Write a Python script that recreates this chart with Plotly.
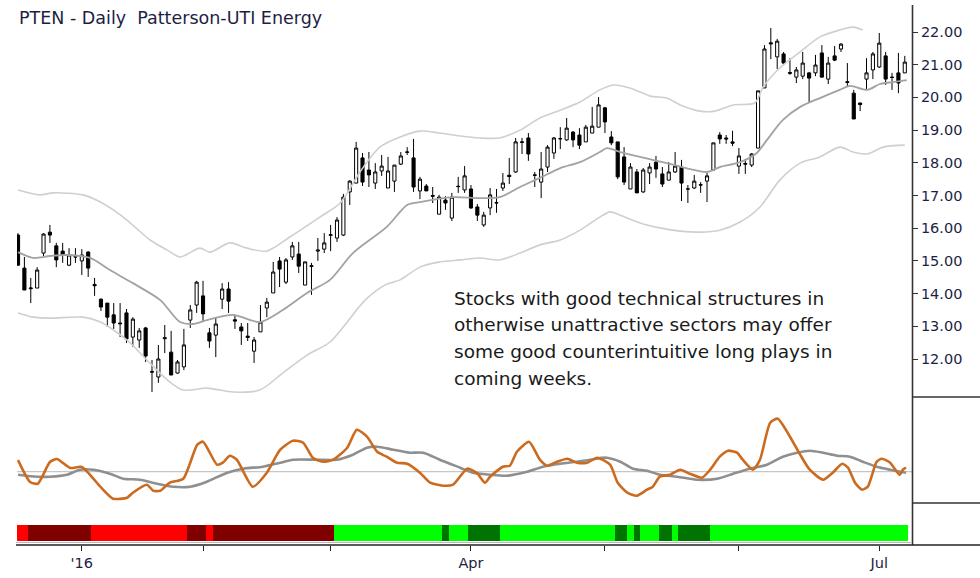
import pandas as pd
import plotly.graph_objects as go

# ---------------- data ----------------
holidays = ["2015-12-25", "2016-01-01", "2016-01-18", "2016-02-15",
            "2016-03-25", "2016-05-30", "2016-07-04"]
dates = pd.bdate_range("2015-12-17", "2016-07-08", freq="C", holidays=holidays)

opens = [15.79, 14.78, 14.15, 14.17, 15.24, 15.88, 15.46, 15.30, 14.87, 15.13,
         15.00, 15.27, 14.28, 13.83, 13.71, 13.35, 13.10, 13.41, 12.67, 12.58,
         12.95, 11.62, 11.45, 12.62, 12.21, 11.57, 11.76, 13.19, 13.65, 13.93,
         12.80, 12.73, 13.83, 14.14, 13.20, 12.98, 12.70, 12.24, 12.83, 13.56,
         14.02, 15.00, 14.35, 15.12, 15.21, 14.26, 14.83, 15.30, 15.36, 15.78,
         15.70, 15.79, 17.11, 17.38, 18.15, 17.78, 17.38, 17.75, 17.23, 17.44,
         17.96, 18.32, 18.15, 17.14, 17.29, 17.00, 16.43, 16.86, 16.31, 17.27,
         17.17, 17.20, 16.65, 16.10, 16.62, 16.77, 17.23, 17.62, 17.72, 18.62,
         18.76, 17.63, 17.41, 17.87, 18.30, 18.73, 18.70, 18.94, 18.85, 18.64,
         18.91, 19.09, 19.68, 18.79, 18.64, 18.18, 17.20, 17.72, 17.11, 17.69,
         18.02, 17.66, 17.47, 17.72, 17.87, 17.20, 17.23, 17.33, 17.44, 17.78,
         18.85, 18.76, 18.64, 17.90, 17.98, 17.93, 18.45, 20.29, 21.67, 21.24,
         21.33, 20.76, 20.62, 20.65, 20.75, 20.75, 21.36, 20.56, 21.27, 21.48,
         20.48, 20.13, 19.83, 20.56, 20.84, 20.93, 21.27, 20.62, 20.75, 20.75]
highs = [15.85, 15.12, 14.48, 14.81, 15.85, 16.10, 15.55, 15.55, 15.39, 15.39,
         15.36, 15.30, 14.48, 13.85, 13.71, 13.71, 13.71, 13.53, 13.28, 12.95,
         12.98, 11.97, 12.43, 13.04, 12.86, 11.97, 12.92, 13.65, 14.39, 14.39,
         12.95, 13.28, 14.32, 14.35, 13.35, 13.10, 13.10, 12.67, 13.65, 13.87,
         14.97, 15.12, 15.09, 15.58, 15.58, 14.97, 14.94, 15.70, 15.85, 16.10,
         16.34, 17.05, 17.47, 18.64, 18.30, 18.33, 17.99, 18.24, 18.18, 17.93,
         18.33, 18.48, 18.73, 17.57, 17.35, 17.26, 17.02, 16.98, 17.08, 17.57,
         17.90, 17.32, 16.74, 16.50, 17.23, 17.20, 17.69, 18.15, 18.76, 18.76,
         18.91, 17.72, 18.33, 18.54, 18.79, 19.09, 19.37, 18.97, 19.06, 19.16,
         19.71, 20.01, 19.71, 18.97, 18.64, 18.48, 17.99, 17.81, 17.84, 17.99,
         18.21, 17.87, 18.02, 18.33, 18.09, 17.32, 17.63, 17.41, 17.69, 18.61,
         18.94, 18.85, 18.98, 18.45, 18.12, 18.30, 20.20, 21.60, 22.12, 21.79,
         21.39, 21.20, 20.93, 21.39, 20.78, 21.30, 21.60, 21.24, 21.57, 21.66,
         21.05, 20.23, 19.83, 21.20, 21.39, 21.97, 21.39, 20.75, 21.36, 21.27]
lows = [14.85, 14.11, 13.71, 14.17, 15.15, 15.55, 14.81, 14.94, 14.84, 14.94,
        14.57, 14.51, 13.93, 13.47, 12.98, 12.92, 12.67, 12.49, 12.37, 12.34,
        11.91, 10.99, 11.27, 12.18, 11.51, 11.55, 11.66, 12.95, 13.41, 13.13,
        12.34, 12.06, 13.53, 13.41, 12.92, 12.43, 12.55, 11.88, 12.83, 13.28,
        14.02, 14.20, 14.29, 15.03, 14.63, 14.26, 13.96, 15.00, 15.24, 15.30,
        15.58, 15.76, 16.71, 17.38, 17.29, 17.26, 17.20, 17.60, 17.23, 17.11,
        17.93, 18.24, 17.11, 16.89, 17.14, 16.77, 16.43, 16.56, 16.22, 17.08,
        17.08, 16.59, 16.22, 16.04, 16.40, 16.47, 17.14, 17.35, 17.69, 18.27,
        18.06, 17.26, 16.92, 17.72, 18.12, 18.42, 18.67, 18.48, 18.42, 18.64,
        18.91, 19.09, 18.91, 18.54, 17.50, 17.32, 17.20, 17.08, 17.08, 17.35,
        17.54, 17.26, 17.47, 17.69, 16.83, 16.77, 17.20, 17.08, 16.80, 17.78,
        18.58, 18.58, 18.51, 17.66, 17.66, 17.87, 18.45, 20.29, 21.17, 20.87,
        20.99, 20.69, 20.44, 20.56, 19.86, 20.65, 20.62, 20.41, 21.11, 21.39,
        20.32, 19.34, 19.58, 20.26, 20.56, 20.90, 20.38, 20.23, 20.13, 20.75]
closes = [14.87, 14.11, 14.17, 14.72, 15.82, 15.79, 15.03, 15.18, 15.18, 15.12,
          15.18, 14.78, 14.24, 13.59, 13.28, 13.10, 13.08, 12.61, 13.22, 12.86,
          12.09, 11.60, 12.00, 12.65, 11.51, 11.91, 12.43, 13.50, 14.35, 13.38,
          12.55, 13.07, 14.14, 13.77, 13.16, 12.86, 12.66, 12.58, 13.13, 13.74,
          14.66, 14.75, 15.03, 15.46, 14.84, 14.97, 14.85, 15.33, 15.55, 15.80,
          16.25, 16.95, 17.44, 18.45, 17.41, 17.63, 17.72, 17.90, 17.75, 17.93,
          18.21, 18.33, 17.26, 17.50, 17.14, 16.98, 16.95, 16.77, 16.95, 17.28,
          17.60, 16.62, 16.40, 16.40, 17.02, 16.78, 17.38, 17.58, 18.64, 18.64,
          18.27, 17.62, 17.81, 18.48, 18.76, 18.74, 19.06, 18.70, 18.54, 19.09,
          19.12, 19.77, 19.25, 18.61, 17.57, 17.41, 17.87, 17.08, 17.78, 17.87,
          17.81, 17.35, 17.72, 17.90, 17.38, 17.20, 17.44, 17.32, 17.60, 18.61,
          18.73, 18.73, 18.60, 18.21, 17.96, 18.27, 20.20, 21.48, 21.64, 21.72,
          21.05, 20.74, 20.84, 21.05, 20.59, 20.99, 20.62, 21.05, 21.14, 21.63,
          20.46, 19.34, 19.78, 20.75, 21.33, 21.66, 20.56, 20.61, 20.44, 21.08]

# Bollinger-style envelope (day position, price)
upper_pos = [0, 3.4, 5.5, 10.2, 12.9, 16.5, 20.7, 23.4, 25.4, 28.5, 30.1, 33.2, 35.9,
             39.0, 42.6, 47.3, 50.5, 53.6, 56.7, 59.9, 63.0, 66.1, 69.3, 72.4, 75.5,
             78.7, 81.8, 85.0, 88.1, 91.2, 93.3, 95.9, 99.1, 101.7, 103.8, 106.9,
             109.2, 112.1, 115.5, 116.8, 119.4, 122.6, 125.7, 128.8, 130.9, 132.4]
upper_val = [17.17, 17.02, 17.08, 17.02, 16.80, 16.34, 15.64, 15.33, 15.12, 15.39,
             15.27, 15.55, 15.39, 15.30, 15.73, 16.34, 16.77, 17.72, 18.48, 18.79,
             18.97, 18.91, 18.82, 18.76, 18.76, 19.00, 19.37, 19.61, 19.86, 20.23,
             20.38, 20.29, 20.04, 19.98, 19.77, 19.58, 19.58, 19.77, 19.83, 20.32,
             20.90, 21.39, 21.85, 22.06, 22.15, 22.06]
mid_pos = [0, 2.4, 5.0, 7.7, 11.3, 14.4, 18.0, 22.3, 25.4, 27.4, 29.6, 33.7, 37.9,
           41.5, 45.3, 48.9, 52.5, 57.8, 61.0, 63.0, 68.2, 72.4, 75.5, 78.7, 81.8,
           85.0, 88.1, 91.2, 92.3, 94.4, 97.5, 101.7, 108.0, 110.0, 113.2, 115.8,
           117.4, 119.9, 122.6, 125.7, 128.8, 130.4, 133.1, 135.1, 137.1, 139.3]
mid_val = [15.27, 15.09, 15.15, 15.18, 15.09, 14.72, 14.32, 13.80, 13.13, 13.07,
           13.19, 13.35, 13.13, 13.50, 14.02, 14.42, 15.24, 16.04, 16.71, 16.80,
           16.95, 16.92, 16.95, 17.26, 17.54, 17.84, 18.02, 18.33, 18.45, 18.33,
           18.18, 17.99, 17.72, 17.87, 18.02, 18.30, 18.70, 19.31, 19.71, 19.98,
           20.23, 20.35, 20.23, 20.41, 20.47, 20.53]
lower_pos = [0, 2.4, 5.0, 10.2, 12.9, 17.1, 20.2, 23.4, 25.9, 29.6, 33.7, 37.9,
             41.5, 45.3, 48.9, 54.4, 57.5, 59.9, 63.0, 66.1, 69.3, 72.4, 75.5, 78.7,
             81.8, 85.0, 88.1, 91.2, 92.8, 94.4, 97.5, 100.6, 103.8, 106.9, 110.0,
             113.2, 116.3, 119.4, 122.6, 125.7, 128.8, 130.9, 133.1, 135.6, 139.0]
lower_val = [13.41, 13.28, 13.25, 13.28, 13.13, 12.58, 11.97, 11.36, 11.05, 11.11,
             10.99, 11.05, 11.57, 12.12, 12.52, 13.80, 14.26, 14.42, 14.81, 14.97,
             15.03, 15.09, 15.03, 15.24, 15.49, 15.64, 15.94, 16.34, 16.50, 16.40,
             16.16, 16.01, 15.91, 15.88, 15.94, 16.19, 16.65, 17.47, 17.99, 18.18,
             18.48, 18.33, 18.27, 18.48, 18.54]

# oscillator (day position, value) and its signal line
osc_pos = [0, 1.9, 3.1, 5.0, 6.1, 8.2, 10.0, 12.9, 14.9, 17.1, 18.0, 20.2, 21.2,
           22.3, 23.8, 25.9, 28.1, 29.0, 31.2, 32.1, 33.2, 34.3, 36.8, 39.0, 41.1,
           43.1, 44.7, 46.2, 47.8, 49.4, 51.6, 53.1, 54.7, 56.3, 57.8, 59.4, 61.0,
           63.0, 64.6, 66.6, 68.2, 70.4, 71.9, 73.2, 74.0, 76.0, 77.1, 78.2, 80.1,
           81.8, 82.9, 84.5, 86.1, 87.6, 89.2, 90.8, 92.8, 94.0, 95.5, 97.0, 98.6,
           99.5, 100.6, 102.2, 103.8, 105.3, 107.2, 108.5, 110.0, 111.3, 112.7,
           113.6, 115.2, 116.3, 117.9, 119.1, 121.0, 122.6, 124.1, 126.2, 127.7,
           129.2, 130.1, 131.2, 132.3, 133.2, 134.6, 135.4, 136.7, 138.2, 138.7, 139.2]
osc_val = [1.17, -1.03, -1.2, 0.97, 1.27, 0.37, 0.47, -1.5, -2.7, -2.6, -2.1, -1.3,
           -1.9, -1.9, -1.1, -0.7, 2.7, 3.0, 0.7, 0.9, 1.6, 1.2, -1.5, -0.1, 2.2, 3.1,
           2.9, 1.4, 1.0, 1.2, 2.4, 4.2, 3.5, 2.0, 1.5, 0.9, 0.8, -0.1, -1.1, -1.4,
           -1.3, 0.3, -0.1, -1.1, -0.5, 0.5, 0.6, 2.0, 3.0, 1.2, 0.6, 1.0, 1.3, 0.9,
           0.9, 1.4, 0.7, -1.1, -2.1, -2.4, -1.8, -1.5, -0.5, -0.3, 0.2, -0.2, -0.6,
           0.2, 1.5, 2.1, 1.9, 1.2, 0.2, 1.2, 4.9, 5.3, 3.5, 1.7, 0.2, -0.8, -0.1,
           0.8, 0.4, -1.1, -1.8, -1.5, 1.0, 1.3, 0.9, -0.3, 0.2, 0.4]
sig_pos = [0, 3.0, 5.0, 7.7, 9.7, 11.8, 14.4, 16.5, 19.1, 21.8, 24.3, 27.0, 29.6,
           32.8, 35.3, 38.4, 41.1, 43.1, 46.9, 50.0, 52.5, 54.7, 56.3, 58.8, 61.4,
           63.5, 66.1, 69.3, 71.3, 74.0, 76.6, 79.8, 82.3, 85.0, 87.6, 89.7, 92.3,
           94.4, 96.4, 98.6, 100.6, 103.3, 106.4, 109.6, 112.1, 114.7, 117.4, 119.9,
           122.1, 124.1, 126.2, 128.4, 130.4, 132.4, 134.6, 136.7, 139.2]
sig_val = [-0.3, -0.5, -0.5, -0.3, 0.2, 0.2, -0.2, -0.7, -0.8, -1.2, -1.5, -1.5,
           -1.0, -0.1, 0.3, 0.5, 0.9, 1.2, 1.2, 1.2, 1.7, 2.4, 2.5, 2.2, 1.9, 1.9,
           1.2, 0.4, -0.1, -0.3, -0.4, 0.0, 0.5, 0.8, 1.0, 1.2, 1.4, 1.0, 0.3, 0.1,
           -0.3, -0.5, -0.8, -0.7, -0.2, 0.3, 0.7, 1.5, 1.9, 2.1, 1.9, 1.6, 1.5, 1.0,
           0.5, 0.2, -0.1]

# trend regime strip: (state, number of days)
regime_runs = [("R", 2), ("DR", 10), ("R", 15), ("DR", 3), ("R", 1), ("DR", 19),
               ("G", 17), ("DG", 1), ("G", 3), ("DG", 5), ("G", 18), ("DG", 2),
               ("G", 1), ("DG", 1), ("G", 3), ("DG", 2), ("G", 1), ("DG", 5), ("G", 31)]
regime_colors = {"R": "#ff0000", "DR": "#800000", "G": "#00ff00", "DG": "#007400"}

price_ticks = [12, 13, 14, 15, 16, 17, 18, 19, 20, 21, 22]
month_labels = {1: "'16", 4: "Apr", 7: "Jul"}
title_text = "PTEN - Daily  Patterson-UTI Energy"
note_lines = ["Stocks with good technical structures in",
              "otherwise unattractive sectors may offer",
              "some good counterintuitive long plays in",
              "coming weeks."]

# ---------------- figure ----------------
n = len(dates)
x = list(range(n))
regime = [s for s, k in regime_runs for _ in range(k)]
bar_colors = [regime_colors[s] for s in regime]

W, H = 980, 578
def py(px):  # pixel-from-top -> paper
    return (H - px) / H

fig = go.Figure()
band = dict(color="#cfcfcf", width=1.6, shape="spline", smoothing=0.8)
fig.add_trace(go.Scatter(x=upper_pos, y=upper_val, mode="lines", line=band, hoverinfo="skip"))
fig.add_trace(go.Scatter(x=lower_pos, y=lower_val, mode="lines", line=band, hoverinfo="skip"))
fig.add_trace(go.Scatter(x=mid_pos, y=mid_val, mode="lines",
                         line=dict(color="#a2a2a2", width=1.8, shape="spline", smoothing=0.8),
                         hoverinfo="skip"))
fig.add_trace(go.Candlestick(
    x=x, open=opens, high=highs, low=lows, close=closes,
    increasing=dict(fillcolor="white", line=dict(color="black", width=1)),
    decreasing=dict(fillcolor="black", line=dict(color="black", width=1)),
    whiskerwidth=0, hoverinfo="skip"))

fig.add_trace(go.Scatter(x=sig_pos, y=sig_val, mode="lines", yaxis="y2",
                         line=dict(color="#8f8f8f", width=2.6, shape="spline", smoothing=0.8),
                         hoverinfo="skip"))
fig.add_trace(go.Scatter(x=osc_pos, y=osc_val, mode="lines", yaxis="y2",
                         line=dict(color="#cc6a1e", width=2.6, shape="spline", smoothing=0.6),
                         hoverinfo="skip"))
fig.add_trace(go.Bar(x=x, y=[1] * n, width=1, yaxis="y3",
                     marker=dict(color=bar_colors, line=dict(width=0)), hoverinfo="skip"))

x0, x1 = 17 / W, 912 / W
tickvals = [i for i in range(1, n) if dates[i].month != dates[i - 1].month]
ticktext = [month_labels.get(dates[i].month, "") for i in tickvals]

navy = "#1e1e44"
fig.update_layout(
    width=W, height=H, margin=dict(l=0, r=0, t=0, b=0),
    paper_bgcolor="white", plot_bgcolor="white", showlegend=False,
    bargap=0, boxgap=0.3,
    xaxis=dict(domain=[x0, x1], range=[-0.16, 140.13], anchor="free", position=py(545),
               tickvals=tickvals, ticktext=ticktext, ticks="outside", ticklen=5,
               tickcolor="#222", tickwidth=1.3, showgrid=False, zeroline=False,
               showline=False, rangeslider=dict(visible=False),
               tickfont=dict(family="DejaVu Sans", size=14.5, color=navy)),
    yaxis=dict(domain=[py(397), py(5)], range=[10.838, 22.826], side="right", anchor="x",
               tickvals=price_ticks, ticktext=[f"{v:.2f}" for v in price_ticks],
               ticks="outside", ticklen=5, tickcolor="#333", tickwidth=1.2,
               showgrid=False, zeroline=False, showline=False,
               tickfont=dict(family="DejaVu Sans", size=14.5, color=navy)),
    yaxis2=dict(domain=[py(503), py(397)], range=[-3.13, 7.47], visible=False,
                anchor="x"),
    yaxis3=dict(domain=[py(541), py(525)], range=[0, 1], visible=False, anchor="x"),
)

shapes = [
    dict(type="line", xref="paper", yref="y2", x0=x0, x1=x1, y0=0, y1=0,
         line=dict(color="#c6c6c6", width=1.2), layer="below"),
    dict(type="line", xref="paper", yref="paper", x0=912.5 / W, x1=912.5 / W,
         y0=py(545), y1=py(5), line=dict(color="#333", width=1.6)),
    dict(type="line", xref="paper", yref="paper", x0=912.5 / W, x1=1,
         y0=py(397), y1=py(397), line=dict(color="#333", width=1.3)),
    dict(type="line", xref="paper", yref="paper", x0=912.5 / W, x1=1,
         y0=py(503), y1=py(503), line=dict(color="#333", width=1.3)),
    dict(type="line", xref="paper", yref="paper", x0=16 / W, x1=1,
         y0=py(545), y1=py(545), line=dict(color="#222", width=1.6)),
    dict(type="line", xref="paper", yref="paper", x0=16 / W, x1=x1,
         y0=py(542.5), y1=py(542.5), line=dict(color="#bbbbbb", width=1)),
]
fig.update_layout(shapes=shapes)

annotations = [dict(text=title_text, xref="paper", yref="paper", x=17 / W, y=py(18),
                    xanchor="left", yanchor="middle", showarrow=False,
                    font=dict(family="DejaVu Sans", size=17.5, color=navy))]
for k, line in enumerate(note_lines):
    annotations.append(dict(text=line, xref="paper", yref="paper", x=452 / W,
                            y=py(298 + 26.7 * k), xanchor="left", yanchor="middle",
                            showarrow=False,
                            font=dict(family="DejaVu Sans", size=18.5, color="#1a1a1a")))
fig.update_layout(annotations=annotations)

fig.write_html("out.html", config={"displayModeBar": False},
               post_script="document.body.style.margin='0';document.body.style.padding='0';")
